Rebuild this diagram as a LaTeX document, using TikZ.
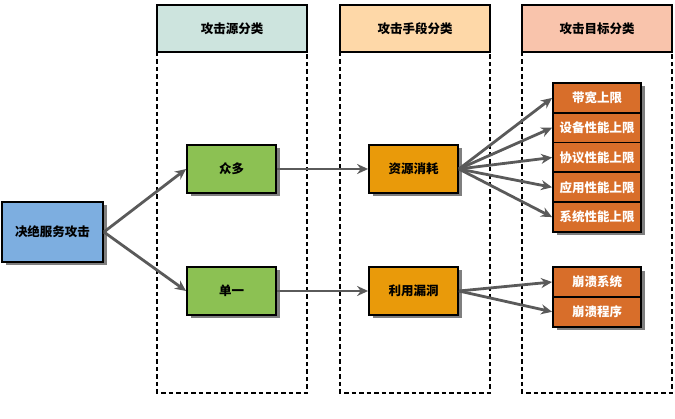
\documentclass[tikz,border=0pt]{standalone}
\usepackage{fontspec}
\newfontfamily\cjk{Noto Sans CJK SC}
\usepackage{tikz}
\usetikzlibrary{arrows.meta,
                positioning,
                shadows}

\definecolor{headA}{HTML}{CDE4DE}
\definecolor{headB}{HTML}{FED8A8}
\definecolor{headC}{HTML}{F9C4AC}
\definecolor{dosblue}{HTML}{7DAEE0}
\definecolor{srcgreen}{HTML}{8CC153}
\definecolor{wayorange}{HTML}{E99A0A}
\definecolor{aimbrown}{HTML}{D86E2A}
\definecolor{linkgray}{HTML}{5A5A5A}

\tikzset{
  box/.style={draw=black, line width=1.8pt, minimum width=89pt, minimum height=48pt,
              font=\cjk\bfseries\fontsize{12.5}{14}\selectfont,
              drop shadow={shadow xshift=3.5pt, shadow yshift=-3.5pt, opacity=0.5, fill=black}},
  head/.style={draw=black, line width=1.8pt, minimum width=150pt, minimum height=47pt,
               font=\cjk\bfseries\fontsize{12.5}{14}\selectfont},
  aim/.style={box, fill=aimbrown, text=white, minimum width=88pt, minimum height=29.8pt},
  column/.style={draw=black, line width=1.8pt, dash pattern=on 4.5pt off 3pt},
  link/.style={draw=linkgray, line width=2.8pt, -{Stealth[length=11pt,width=10pt]}}
}

\begin{document}
\begin{tikzpicture}[x=1pt, y=-1pt]
\useasboundingbox (0,0) rectangle (675,419);

% dashed columns and their headers
\draw[column] (157,52) rectangle (307,393);
\draw[column] (340,52) rectangle (490,393);
\draw[column] (522,52) rectangle (672,393);
\node[head, fill=headA] (hsrc) at (232,28.5) {攻击源分类};
\node[head, fill=headB] (hway) at (415,28.5) {攻击手段分类};
\node[head, fill=headC] (haim) at (597,28.5) {攻击目标分类};

% boxes
\node[box, fill=dosblue, minimum width=101pt, minimum height=60pt] (dos) at (52.5,232) {决绝服务攻击};
\node[box, fill=srcgreen] (many) at (231.5,169) {众多};
\node[box, fill=srcgreen] (single) at (231.5,291) {单一};
\node[box, fill=wayorange] (exhaust) at (413.5,169) {资源消耗};
\node[box, fill=wayorange] (vuln) at (413.5,291) {利用漏洞};

\foreach \t [count=\i] in {带宽上限,设备性能上限,协议性能上限,应用性能上限,系统性能上限}
  \node[aim] (t\i) at (597,{97.9+29.8*(\i-1)}) {\t};
\foreach \t [count=\i] in {崩溃系统,崩溃程序}
  \node[aim] (c\i) at (597,{282+29.8*(\i-1)}) {\t};

% arrows
\draw[link] (dos.east) -- (many.west);
\draw[link] (dos.east) -- (single.west);
\draw[link] (many.east) -- (exhaust.west);
\draw[link] (single.east) -- (vuln.west);
\foreach \i in {1,...,5}
  \draw[link] (exhaust.east) -- (t\i.west);
\foreach \i in {1,2}
  \draw[link] (vuln.east) -- (c\i.west);
\end{tikzpicture}
\end{document}
